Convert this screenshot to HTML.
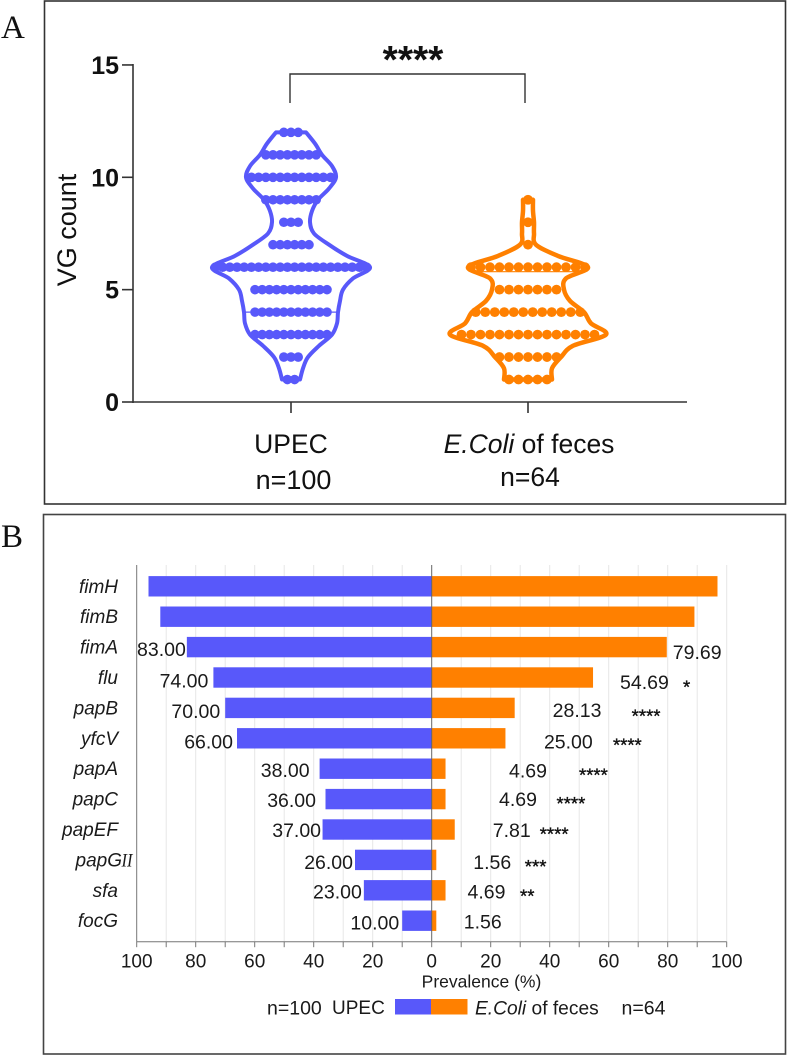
<!DOCTYPE html>
<html lang="en">
<head>
<meta charset="utf-8">
<title>Virulence gene count and prevalence</title>
<style>
html,body{margin:0;padding:0;background:#fff;}
svg{display:block;font-family:"Liberation Sans",Arial,sans-serif;}
</style>
</head>
<body>
<svg id="figure" width="787" height="1055" viewBox="0 0 787 1055" xmlns="http://www.w3.org/2000/svg">
  <rect x="44.5" y="1" width="741" height="503" fill="none" stroke="#333" stroke-width="1.6"/>
  <rect x="43.5" y="514.5" width="742" height="539.5" fill="none" stroke="#444" stroke-width="1.6"/>
  <text x="1" y="38" font-family="'Liberation Serif',serif" font-size="33" fill="#111">A</text>
  <text x="1" y="547" font-family="'Liberation Serif',serif" font-size="33" fill="#111">B</text>

  <g id="violin-plot"></g>
  <g id="significance">
    <path d="M290 103V74H525V103" fill="none" stroke="#333" stroke-width="1.4"/>
    <text x="413" y="73" text-anchor="middle" font-size="39" font-weight="bold" fill="#111">****</text>
  </g>
  <text transform="translate(76 230) rotate(-90)" text-anchor="middle" font-size="27" fill="#111">VG count</text>
  <text x="291" y="453" text-anchor="middle" font-size="26.5" fill="#111">UPEC</text>
  <text x="293.5" y="489" text-anchor="middle" font-size="27" fill="#111">n=100</text>
  <text x="529" y="453" text-anchor="middle" font-size="26.5" fill="#111"><tspan font-style="italic">E.Coli</tspan> of feces</text>
  <text x="530" y="486" text-anchor="middle" font-size="26.5" fill="#111">n=64</text>

  <g id="bar-plot"></g>

  <text x="481.5" y="987.5" text-anchor="middle" font-size="17.5" fill="#1a1a1a">Prevalence (%)</text>
  <g>
    <text x="267" y="1014.5" font-size="19.5" fill="#1a1a1a">n=100</text>
    <text x="332" y="1014" font-size="19" fill="#1a1a1a">UPEC</text>
    <rect x="395" y="999" width="36" height="15.5" fill="#5858fa"/>
    <rect x="431" y="999" width="36.5" height="15.5" fill="#ff8000"/>
    <text x="475" y="1014.5" font-size="19.2" fill="#1a1a1a"><tspan font-style="italic">E.Coli</tspan> of feces</text>
    <text x="621.5" y="1014.5" font-size="19.5" fill="#1a1a1a">n=64</text>
  </g>
</svg>
<script>
// ---- Panel A data ----
const vgTicks = [0, 5, 10, 15];
const vgLevels = [1, 2, 3, 4, 5, 6, 7, 8, 9, 10, 11, 12];
const upecCounts = [2, 3, 11, 11, 11, 22, 6, 3, 8, 12, 8, 3];
const fecesCounts = [5, 7, 15, 12, 7, 13, 1, 1, 1, 0, 0, 0];
const upecDensityLevels = [1, 1.5, 2, 2.5, 3, 3.5, 4, 4.5, 5, 5.5, 6, 6.5, 7, 7.5, 8, 8.5, 9, 9.5, 10, 10.5, 11, 11.5, 12];
const upecDensity = [9, 12, 17, 28, 41, 46, 47, 49, 52, 62, 79, 56, 38, 23, 19, 21, 27, 38, 45, 41, 31, 24, 15];
const fecesDensityLevels = [1, 1.5, 2, 2.5, 3, 3.5, 4, 4.5, 5, 5.5, 6, 6.5, 7, 7.5, 8, 8.5, 9];
const fecesDensity = [24, 24, 33, 45, 78, 63, 56, 42, 36, 38, 60, 30, 8, 6, 6, 5, 5];
const upecMedian = 4;
const fecesMedian = 5.8;

// ---- Panel B data ----
const genes = ['fimH', 'fimB', 'fimA', 'flu', 'papB', 'yfcV', 'papA', 'papC', 'papEF', 'papG', 'sfa', 'focG'];
const upecPrevalence = [96, 92, 83, 74, 70, 66, 38, 36, 37, 26, 23, 10];
const fecesPrevalence = [96.88, 89.06, 79.69, 54.69, 28.13, 25, 4.69, 4.69, 7.81, 1.56, 4.69, 1.56];
const upecPrinted = ['', '', '83.00', '74.00', '70.00', '66.00', '38.00', '36.00', '37.00', '26.00', '23.00', '10.00'];
const fecesPrinted = ['', '', '79.69', '54.69', '28.13', '25.00', '4.69', '4.69', '7.81', '1.56', '4.69', '1.56'];
const significance = ['', '', '', '*', '****', '****', '****', '****', '****', '***', '**', ''];
const prevalenceTicks = [100, 80, 60, 40, 20, 0, 20, 40, 60, 80, 100];

// ---- Scales ----
const NS = 'http://www.w3.org/2000/svg';
const BLUE = '#5858fa';
const ORANGE = '#ff8000';
const yV = v => 402 - v * 22.47;
const xP = p => 431.7 + p * 2.95;
const rowY = i => 586.3 + i * 30.4;

// Hand-placed annotation offsets (layout only, relative to each bar end / row centre)
const upecLabelGap = [0, 0, 1, 5, 5, 4, 10, 9.5, 1.5, 2, 2, 3];
const fecesLabelGap = [0, 0, 6, 27, 38, 38.5, 63.5, 53.5, 38, 37, 22, 27.5];
const upecLabelDy = [0, 0, 2, 3, 3, 3, 1.5, 1, 0.5, 2, 1, 2];
const fecesLabelDy = [0, 0, 5, 4.5, 2, 3, 2, 0, 0.5, 2, 1, 1];
const starGap = [0, 0, 0, 90, 117, 107.5, 133.5, 111, 85, 88.5, 74.5, 0];
const starDy = [0, 0, 0, 15.9, 14.5, 13.1, 13, 10.9, 11.2, 13.1, 12.1, 0];

function make(parent, tag, attrs, text) {
  const el = document.createElementNS(NS, tag);
  for (const k in attrs) el.setAttribute(k, attrs[k]);
  if (text !== undefined) el.textContent = text;
  parent.appendChild(el);
  return el;
}

function sidePath(levels, density, center, sign) {
  const p = levels.map((v, i) => [center + sign * density[i], yV(v)]);
  const seg = [];
  for (let i = 0; i < p.length - 1; i++) {
    const p0 = p[Math.max(i - 1, 0)], p1 = p[i], p2 = p[i + 1], p3 = p[Math.min(i + 2, p.length - 1)];
    const c1 = [p1[0] + (p2[0] - p0[0]) / 6, p1[1] + (p2[1] - p0[1]) / 6];
    const c2 = [p2[0] - (p3[0] - p1[0]) / 6, p2[1] - (p3[1] - p1[1]) / 6];
    seg.push({ a: p1, c1, c2, b: p2 });
  }
  return seg;
}

function violinPath(levels, density, center) {
  const right = sidePath(levels, density, center, 1);
  const left = sidePath(levels, density, center, -1);
  const f = n => n.toFixed(1);
  let d = 'M' + f(left[0].a[0]) + ' ' + f(left[0].a[1]);
  d += 'L' + f(right[0].a[0]) + ' ' + f(right[0].a[1]);
  right.forEach(s => { d += 'C' + [s.c1, s.c2, s.b].map(q => f(q[0]) + ' ' + f(q[1])).join(' '); });
  const lastLeft = left[left.length - 1];
  d += 'L' + f(lastLeft.b[0]) + ' ' + f(lastLeft.b[1]);
  for (let i = left.length - 1; i >= 0; i--) {
    const s = left[i];
    d += 'C' + [s.c2, s.c1, s.a].map(q => f(q[0]) + ' ' + f(q[1])).join(' ');
  }
  return d + 'Z';
}

function densityAt(levels, density, v) {
  for (let i = 0; i < levels.length - 1; i++) {
    if (v >= levels[i] && v <= levels[i + 1]) {
      const t = (v - levels[i]) / (levels[i + 1] - levels[i]);
      return density[i] + t * (density[i + 1] - density[i]);
    }
  }
  return 0;
}

function drawViolin(parent, name, center, color, levels, density, counts, spacing, radius, median, lineWidth) {
  const outline = make(parent, 'path', { d: violinPath(levels, density, center), fill: 'none', stroke: color, 'stroke-width': lineWidth, 'stroke-linejoin': 'round' });
  
  
  const hw = densityAt(levels, density, median);
  const med = make(parent, 'line', { x1: center - hw, x2: center + hw, y1: yV(median), y2: yV(median), stroke: color, 'stroke-width': 1.2 });
  
  
  vgLevels.forEach((v, i) => {
    for (let k = 0; k < counts[i]; k++) {
      const dot = make(parent, 'circle', { cx: center + (k - (counts[i] - 1) / 2) * spacing, cy: yV(v), r: radius, fill: color });
      
      
    }
  });
}

// ---- Panel A ----
const vg = document.getElementById('violin-plot');
drawViolin(vg, 'upec', 291, BLUE, upecDensityLevels, upecDensity, upecCounts, 7.2, 4.8, upecMedian, 4);
drawViolin(vg, 'feces', 528, ORANGE, fecesDensityLevels, fecesDensity, fecesCounts, 9.5, 4.9, fecesMedian, 4.5);

const yAxisA = make(vg, 'line', { x1: 133, x2: 133, y1: yV(15) - 1, y2: yV(0) + 1, stroke: '#333', 'stroke-width': 1.6 });


const xAxisA = make(vg, 'line', { x1: 133, x2: 687, y1: yV(0), y2: yV(0), stroke: '#333', 'stroke-width': 1.6 });


vgTicks.forEach(t => {
  const tick = make(vg, 'line', { x1: 122, x2: 133, y1: yV(t), y2: yV(t), stroke: '#333', 'stroke-width': 1.6 });
  
  
  const label = make(vg, 'text', { x: 119, y: yV(t) + 9, 'text-anchor': 'end', 'font-size': 25, 'font-weight': 'bold', fill: '#111' }, String(t));
  
  
});
[291, 528].forEach(x => {
  const tick = make(vg, 'line', { x1: x, x2: x, y1: yV(0), y2: yV(0) + 11, stroke: '#333', 'stroke-width': 1.6 });
  
  
});

// ---- Panel B ----
const bp = document.getElementById('bar-plot');
const axisY = 941.7;
for (let p = -100; p <= 100; p += 10) {
  if (p !== -100 && p !== 0) {
    const grid = make(bp, 'line', { x1: xP(p), x2: xP(p), y1: 565, y2: axisY, stroke: '#e6e6e6', 'stroke-width': 1 });
    
    
  }
  const tick = make(bp, 'line', { x1: xP(p), x2: xP(p), y1: axisY, y2: axisY + 5.5, stroke: '#777', 'stroke-width': 1 });
  
  
}
genes.forEach((g, i) => {
  const cy = rowY(i);
  const barU = make(bp, 'rect', { x: xP(-upecPrevalence[i]), y: cy - 10.2, width: xP(0) - xP(-upecPrevalence[i]), height: 20.4, fill: BLUE });
  
  
  const barF = make(bp, 'rect', { x: xP(0), y: cy - 10.2, width: xP(fecesPrevalence[i]) - xP(0), height: 20.4, fill: ORANGE });
  
  
  const gene = make(bp, 'text', { x: g === 'papG' ? 122 : 118, y: cy + 6.5, 'text-anchor': 'end', 'font-size': 19, 'font-style': 'italic', fill: '#1a1a1a' }, g);
  
  
  if (g === 'papG') {
    const roman = make(bp, 'text', { x: 121.5, y: cy + 6.5, 'font-size': 19, 'font-style': 'italic', 'font-family': '"Liberation Serif",serif', fill: '#1a1a1a', textLength: 11, lengthAdjust: 'spacingAndGlyphs' }, 'II');
    
    
  }
  if (upecPrinted[i]) {
    const lu = make(bp, 'text', { x: xP(-upecPrevalence[i]) - upecLabelGap[i], y: cy + upecLabelDy[i] + 7, 'text-anchor': 'end', 'font-size': 19.5, fill: '#1a1a1a' }, upecPrinted[i]);
    
    
  }
  if (fecesPrinted[i]) {
    const lf = make(bp, 'text', { x: xP(fecesPrevalence[i]) + fecesLabelGap[i], y: cy + fecesLabelDy[i] + 7, 'font-size': 19.5, fill: '#1a1a1a' }, fecesPrinted[i]);
    
    
  }
  if (significance[i]) {
    const st = make(bp, 'text', { x: xP(fecesPrevalence[i]) + starGap[i], y: cy + starDy[i], 'font-size': 18.5, fill: '#111', stroke: '#111', 'stroke-width': 0.35 }, significance[i]);
    
    
  }
});
const zeroLine = make(bp, 'line', { x1: xP(0), x2: xP(0), y1: 565, y2: axisY, stroke: '#666', 'stroke-width': 1 });


const leftAxis = make(bp, 'line', { x1: xP(-100), x2: xP(-100), y1: 565, y2: axisY, stroke: '#777', 'stroke-width': 1 });


const bottomAxis = make(bp, 'line', { x1: xP(-100), x2: xP(100), y1: axisY, y2: axisY, stroke: '#777', 'stroke-width': 1 });


prevalenceTicks.forEach((t, i) => {
  const signed = i < 5 ? -t : t;
  const label = make(bp, 'text', { x: xP(signed), y: 967.5, 'text-anchor': 'middle', 'font-size': 19, fill: '#1a1a1a' }, String(t));
  
  
});
</script>
</body>
</html>
